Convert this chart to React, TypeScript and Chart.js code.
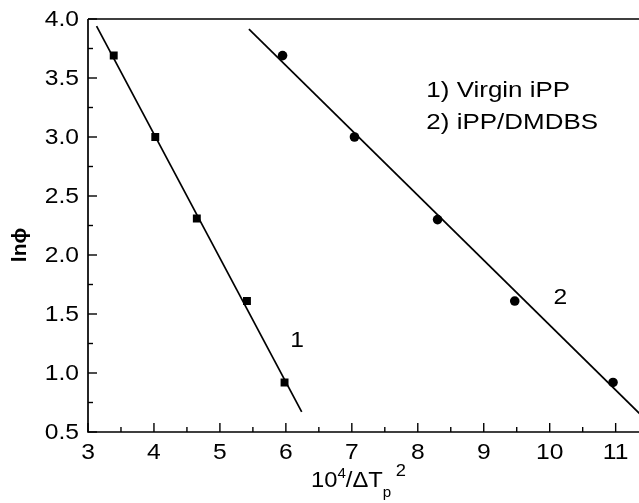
import React, { useEffect, useRef } from "react";
import { Chart, registerables } from "chart.js";

Chart.register(...registerables);

// ---- data ----
const virginX = [3.39, 4.02, 4.65, 5.41, 5.98];
const virginY = [3.69, 3.0, 2.31, 1.61, 0.92];
const dmdbsX = [5.95, 7.04, 8.3, 9.47, 10.96];
const dmdbsY = [3.69, 3.0, 2.3, 1.61, 0.92];
// fitted lines (end points)
const fit1X = [3.13, 6.24];
const fit1Y = [3.94, 0.67];
const fit2X = [5.44, 11.4];
const fit2Y = [3.915, 0.635];

const xMin = 3;
const xMax = 11.36;
const yMin = 0.5;
const yMax = 4.0;

const legendLines = ["1) Virgin iPP", "2) iPP/DMDBS"];
const curveLabels = ["1", "2"];
const curveLabelX = [6.17, 10.16];
const curveLabelY = [1.27, 1.64];
const legendX = 8.13;
const legendY = [3.34, 3.07];

const FONT = "'Liberation Sans', Arial, Helvetica, sans-serif";
const STRETCH = 1.12;
const POINT_R = 5.6;

function pts(xs: number[], ys: number[]) {
  return xs.map((x, i) => ({ x, y: ys[i] }));
}

function stretchText(
  ctx: CanvasRenderingContext2D,
  text: string,
  x: number,
  y: number,
  align: "left" | "center" | "right",
  baseline: CanvasTextBaseline,
  sx = STRETCH
) {
  ctx.save();
  ctx.translate(x, y);
  ctx.scale(sx, 1);
  ctx.textAlign = align;
  ctx.textBaseline = baseline;
  ctx.fillText(text, 0, 0);
  ctx.restore();
}

const decorPlugin = {
  id: "decor",
  afterDraw(chart: any) {
    const ctx: CanvasRenderingContext2D = chart.ctx;
    const { left, right, top, bottom } = chart.chartArea;
    const xs = chart.scales.x;
    const ys = chart.scales.y;
    ctx.save();
    ctx.strokeStyle = "#000";
    ctx.fillStyle = "#000";
    ctx.lineWidth = 1.7;
    // frame
    ctx.beginPath();
    ctx.moveTo(left, top);
    ctx.lineTo(right + 10, top);
    ctx.moveTo(left, top);
    ctx.lineTo(left, bottom);
    ctx.lineTo(right + 10, bottom);
    ctx.stroke();

    // x ticks
    ctx.lineWidth = 1.4;
    ctx.font = `22px ${FONT}`;
    xs.ticks.forEach((t: any) => {
      const v = t.value;
      if (Math.abs(v * 2 - Math.round(v * 2)) > 1e-6) return;
      const px = xs.getPixelForValue(v);
      const major = Math.abs(v - Math.round(v)) < 1e-6;
      const len = major ? 9 : 5;
      ctx.beginPath();
      ctx.moveTo(px, bottom);
      ctx.lineTo(px, bottom - len);
      ctx.stroke();
      if (major) stretchText(ctx, String(Math.round(v)), px, bottom + 10, "center", "top");
    });
    // y ticks
    ys.ticks.forEach((t: any) => {
      const v = t.value;
      if (Math.abs(v * 4 - Math.round(v * 4)) > 1e-6) return;
      const py = ys.getPixelForValue(v);
      const major = Math.abs(v * 2 - Math.round(v * 2)) < 1e-6;
      const len = major ? 9 : 5;
      ctx.beginPath();
      ctx.moveTo(left, py);
      ctx.lineTo(left + len, py);
      ctx.stroke();
      if (major) stretchText(ctx, v.toFixed(1), left - 9, py + 1, "right", "middle");
    });

    // y title (bold, rotated)
    ctx.save();
    ctx.translate(26, 245);
    ctx.rotate(-Math.PI / 2);
    ctx.font = `bold 21px ${FONT}`;
    ctx.textAlign = "center";
    ctx.textBaseline = "alphabetic";
    ctx.fillText("ln\u03D5", 0, 0);
    ctx.restore();

    // x title 10^4/ΔT_p^2
    const base = 487;
    let cx = 311;
    const big = `22px ${FONT}`;
    const small = `14px ${FONT}`;
    const seg = (txt: string, font: string, dy: number) => {
      ctx.font = font;
      stretchText(ctx, txt, cx, base + dy, "left", "alphabetic", 1.08);
      cx += ctx.measureText(txt).width * 1.08;
    };
    seg("10", big, 0);
    seg("4", small, -9);
    seg("/\u0394T", big, 0);
    const afterT = cx;
    seg("p", small, 10);
    cx = afterT + 13;
    seg("2", `17px ${FONT}`, -11);

    // curve labels
    ctx.font = `22px ${FONT}`;
    curveLabels.forEach((lab, i) => {
      stretchText(ctx, lab, xs.getPixelForValue(curveLabelX[i]), ys.getPixelForValue(curveLabelY[i]), "center", "middle");
    });

    // legend text
    legendLines.forEach((line, i) => {
      const lx = xs.getPixelForValue(legendX);
      const ly = ys.getPixelForValue(legendY[i]);
      ctx.font = `22px ${FONT}`;
      stretchText(ctx, line, lx, ly, "left", "alphabetic", 1.18);
    });
    ctx.restore();
  },
};

export default function App() {
  const ref = useRef<HTMLCanvasElement | null>(null);
  useEffect(() => {
    if (!ref.current) return;
    const chart = new Chart(ref.current, {
      type: "scatter",
      data: {
        datasets: [
          {
            label: "fit1",
            data: pts(fit1X, fit1Y),
            showLine: true,
            borderColor: "#000",
            borderWidth: 1.7,
            pointRadius: 0,
          },
          {
            label: "fit2",
            data: pts(fit2X, fit2Y),
            showLine: true,
            borderColor: "#000",
            borderWidth: 1.7,
            pointRadius: 0,
          },
          {
            label: "Virgin iPP",
            data: pts(virginX, virginY),
            pointStyle: "rect",
            pointRadius: POINT_R,
            backgroundColor: "#000",
            borderColor: "#000",
            borderWidth: 0,
          },
          {
            label: "iPP/DMDBS",
            data: pts(dmdbsX, dmdbsY),
            pointStyle: "circle",
            pointRadius: 4.8,
            backgroundColor: "#000",
            borderColor: "#000",
            borderWidth: 0,
          },
        ],
      },
      options: {
        responsive: false,
        animation: false,
        devicePixelRatio: 1,
        layout: { padding: { top: 19, right: 0, left: 0, bottom: 0 } },
        plugins: { legend: { display: false }, tooltip: { enabled: false }, title: { display: false } },
        scales: {
          x: {
            type: "linear",
            min: xMin,
            max: xMax,
            ticks: { display: false, stepSize: 0.5, includeBounds: false },
            grid: { display: false },
            border: { display: false },
            afterFit: (s: any) => {
              s.height = 71;
            },
          },
          y: {
            type: "linear",
            min: yMin,
            max: yMax,
            ticks: { display: false, stepSize: 0.25, includeBounds: false },
            grid: { display: false },
            border: { display: false },
            afterFit: (s: any) => {
              s.width = 88;
            },
          },
        },
      },
      plugins: [decorPlugin],
    } as any);
    return () => chart.destroy();
  }, []);
  return (
    <div style={{ position: "fixed", left: 0, top: 0, width: 639, height: 503, overflow: "hidden", background: "#fff" }}>
      <canvas ref={ref} width={645} height={503} />
    </div>
  );
}
